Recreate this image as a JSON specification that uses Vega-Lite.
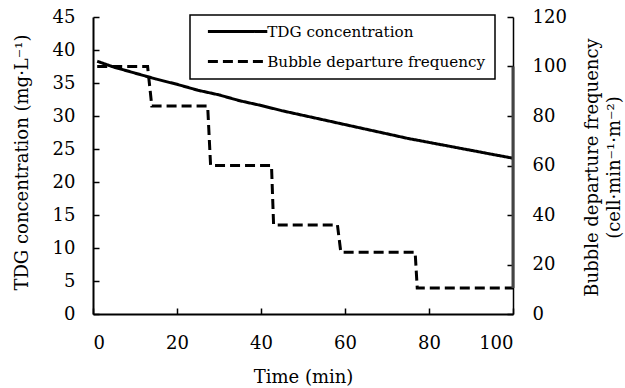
{
  "$schema": "https://vega.github.io/schema/vega-lite/v6.json",
  "width": 420,
  "height": 297,
  "autosize": "none",
  "padding": {"left": 93, "top": 17, "right": 112, "bottom": 74},
  "background": "white",
  "config": {
    "font": "DejaVu Serif",
    "view": {"stroke": null},
    "axis": {
      "grid": false,
      "domainColor": "black",
      "domainWidth": 2,
      "tickColor": "black",
      "tickWidth": 1.5,
      "labelColor": "black",
      "titleColor": "black",
      "labelFont": "DejaVu Serif",
      "titleFont": "DejaVu Serif",
      "labelFontSize": 18,
      "titleFontSize": 18,
      "titleFontWeight": "normal"
    }
  },
  "layer": [
    {
      "data": {"values": [
        {"time": 1, "tdg": 38.3, "series": "TDG concentration"},
        {"time": 5, "tdg": 37.4, "series": "TDG concentration"},
        {"time": 10, "tdg": 36.5, "series": "TDG concentration"},
        {"time": 15, "tdg": 35.6, "series": "TDG concentration"},
        {"time": 20, "tdg": 34.8, "series": "TDG concentration"},
        {"time": 25, "tdg": 33.9, "series": "TDG concentration"},
        {"time": 30, "tdg": 33.2, "series": "TDG concentration"},
        {"time": 35, "tdg": 32.3, "series": "TDG concentration"},
        {"time": 40, "tdg": 31.6, "series": "TDG concentration"},
        {"time": 45, "tdg": 30.8, "series": "TDG concentration"},
        {"time": 50, "tdg": 30.1, "series": "TDG concentration"},
        {"time": 55, "tdg": 29.4, "series": "TDG concentration"},
        {"time": 60, "tdg": 28.7, "series": "TDG concentration"},
        {"time": 65, "tdg": 28.0, "series": "TDG concentration"},
        {"time": 70, "tdg": 27.3, "series": "TDG concentration"},
        {"time": 75, "tdg": 26.6, "series": "TDG concentration"},
        {"time": 80, "tdg": 26.0, "series": "TDG concentration"},
        {"time": 85, "tdg": 25.4, "series": "TDG concentration"},
        {"time": 90, "tdg": 24.8, "series": "TDG concentration"},
        {"time": 95, "tdg": 24.2, "series": "TDG concentration"},
        {"time": 100, "tdg": 23.6, "series": "TDG concentration"}
      ]},
      "mark": {"type": "line", "color": "black", "strokeWidth": 3},
      "encoding": {
        "x": {
          "field": "time", "type": "quantitative",
          "scale": {"domain": [0, 100], "nice": false},
          "axis": {
            "title": "Time (min)",
            "values": [0, 20, 40, 60, 80, 100],
            "tickSize": -6,
            "labelPadding": 26,
            "titleX": 210,
            "titleY": 68,
            "titleBaseline": "alphabetic"
          }
        },
        "y": {
          "field": "tdg", "type": "quantitative",
          "scale": {"domain": [0, 45], "nice": false},
          "axis": {
            "title": "TDG concentration (mg·L⁻¹)",
            "values": [0, 5, 10, 15, 20, 25, 30, 35, 40, 45],
            "tickSize": -6,
            "labelPadding": 24,
            "titleX": -71,
            "titleY": 145,
            "titleAngle": -90,
            "titleBaseline": "middle",
            "titleAlign": "center"
          }
        },
        "strokeDash": {
          "field": "series", "type": "nominal",
          "scale": {"domain": ["TDG concentration", "Bubble departure frequency"], "range": [[1, 0], [10, 5]]},
          "legend": {
            "title": null,
            "orient": "none",
            "legendX": 97,
            "legendY": -2,
            "strokeColor": "black",
            "fillColor": "white",
            "padding": 9,
            "symbolType": "M-5.4,0H5.4",
            "symbolSize": 121,
            "symbolOffset": 31,
            "symbolStrokeWidth": 3,
            "symbolStrokeColor": "black",
            "labelFont": "DejaVu Serif",
            "labelFontSize": 15.2,
            "labelColor": "black",
            "labelLimit": 400,
            "labelOffset": 22,
            "rowPadding": 14,
            "encode": {"legend": {"update": {"strokeWidth": {"value": 1.5}}}}
          }
        }
      }
    },
    {
      "layer": [
        {
          "data": {"values": [
            {"time": 1, "freq": 100, "series": "Bubble departure frequency"},
            {"time": 13, "freq": 100, "series": "Bubble departure frequency"},
            {"time": 14, "freq": 84, "series": "Bubble departure frequency"},
            {"time": 27.3, "freq": 84, "series": "Bubble departure frequency"},
            {"time": 28, "freq": 60, "series": "Bubble departure frequency"},
            {"time": 42.5, "freq": 60, "series": "Bubble departure frequency"},
            {"time": 43, "freq": 36, "series": "Bubble departure frequency"},
            {"time": 58.2, "freq": 36, "series": "Bubble departure frequency"},
            {"time": 59, "freq": 25, "series": "Bubble departure frequency"},
            {"time": 76.7, "freq": 25, "series": "Bubble departure frequency"},
            {"time": 77.2, "freq": 10.5, "series": "Bubble departure frequency"},
            {"time": 100, "freq": 10.5, "series": "Bubble departure frequency"}
          ]},
          "mark": {"type": "line", "color": "black", "strokeWidth": 3},
          "encoding": {
            "x": {"field": "time", "type": "quantitative"},
            "y": {
              "field": "freq", "type": "quantitative",
              "scale": {"domain": [0, 120], "nice": false},
              "axis": {
                "orient": "right",
                "title": ["Bubble departure frequency", "(cell·min⁻¹·m⁻²)"],
                "values": [0, 20, 40, 60, 80, 100, 120],
                "domainWidth": 1.5,
                "tickSize": -6,
                "labelPadding": 25,
                "titleX": 79,
                "titleY": 150,
                "titleAngle": -90,
                "titleBaseline": "middle",
                "titleAlign": "center",
                "titleLineHeight": 22
              }
            },
            "strokeDash": {"field": "series", "type": "nominal"}
          }
        },
        {
          "data": {"values": [{"time": 100, "freq": 10.5, "freq2": 100}]},
          "mark": {"type": "rule", "color": "#444444", "strokeWidth": 3},
          "encoding": {
            "x": {"field": "time", "type": "quantitative"},
            "y": {"field": "freq", "type": "quantitative"},
            "y2": {"field": "freq2"}
          }
        }
      ]
    }
  ],
  "resolve": {"scale": {"y": "independent"}}
}
